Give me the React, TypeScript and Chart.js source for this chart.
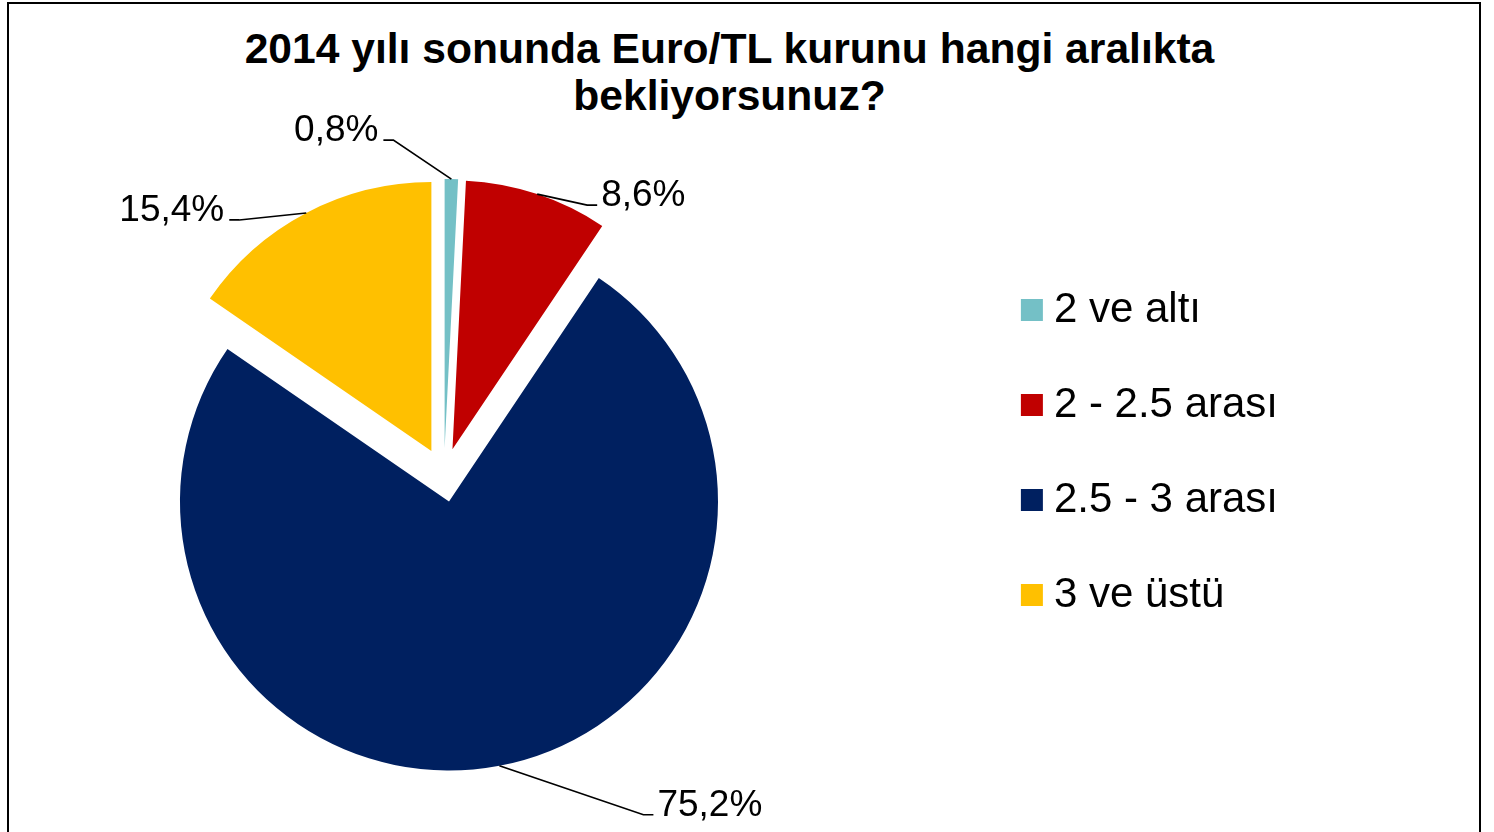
import React, { useEffect, useRef } from 'react';
import { Chart, registerables } from 'chart.js';

Chart.register(...registerables);

// ---- data ----
const TITLE_LINES = ['2014 yılı sonunda Euro/TL kurunu hangi aralıkta', 'bekliyorsunuz?'];
const CATEGORIES = ['2 ve altı', '2 - 2.5 arası', '2.5 - 3 arası', '3 ve üstü'];
const VALUES = [0.8, 8.6, 75.2, 15.4];

// ---- style ----
const COLORS = ['#74C0C6', '#C00000', '#002060', '#FFC000'];
const FONT = '"Liberation Sans", Arial, Helvetica, sans-serif';
const EXPLODE = 27; // px each slice is pulled out along its bisector
const RADIUS = 269;
// leader-line elbow offsets (px) from the slice's outer mid-point
const LABEL_OFFSETS: [number, number][] = [
  [-58, -39],
  [50, 11],
  [144, 49],
  [-67, 7],
];
const CANVAS_LEFT = -90;
const CANVAS_W = 1584;
const CANVAS_H = 832;

const fmt = (v: number) => v.toFixed(1).replace('.', ',') + '%';

const explodePlugin = {
  id: 'explodeSlices',
  afterDatasetsUpdate(chart: any) {
    const meta = chart.getDatasetMeta(0);
    meta.data.forEach((arc: any) => {
      const mid = (arc.startAngle + arc.endAngle) / 2;
      arc.x += Math.cos(mid) * EXPLODE;
      arc.y += Math.sin(mid) * EXPLODE;
    });
  },
};

const labelPlugin = {
  id: 'sliceLabels',
  afterDatasetsDraw(chart: any) {
    const ctx = chart.ctx;
    const meta = chart.getDatasetMeta(0);
    const data = chart.data.datasets[0].data as number[];
    ctx.save();
    ctx.font = `37px ${FONT}`;
    ctx.fillStyle = '#000';
    ctx.strokeStyle = '#000';
    ctx.lineWidth = 1.7;
    meta.data.forEach((arc: any, i: number) => {
      const mid = (arc.startAngle + arc.endAngle) / 2;
      const sx = arc.x + Math.cos(mid) * arc.outerRadius;
      const sy = arc.y + Math.sin(mid) * arc.outerRadius;
      const [dx, dy] = LABEL_OFFSETS[i];
      const ex = sx + dx;
      const ey = sy + dy;
      const left = dx < 0;
      const tx = ex + (left ? -10 : 10);
      ctx.beginPath();
      ctx.moveTo(sx, sy);
      ctx.lineTo(ex, ey);
      ctx.lineTo(tx, ey);
      ctx.stroke();
      ctx.textAlign = left ? 'right' : 'left';
      ctx.textBaseline = 'alphabetic';
      ctx.fillText(fmt(data[i]), tx + (left ? -5 : 4), ey + 1);
    });
    ctx.restore();
  },
};

export default function App() {
  const ref = useRef<HTMLCanvasElement | null>(null);

  useEffect(() => {
    if (!ref.current) return;
    const chart = new Chart(ref.current, {
      type: 'pie',
      data: {
        labels: CATEGORIES,
        datasets: [
          {
            data: VALUES,
            backgroundColor: COLORS,
            borderWidth: 0,
            radius: RADIUS,
            clip: false,
          } as any,
        ],
      },
      options: {
        animation: false,
        responsive: false,
        devicePixelRatio: 1,
        events: [],
        layout: { padding: { top: 236, bottom: 118, left: 0, right: 206 } },
        plugins: {
          title: { display: false },
          tooltip: { enabled: false },
          legend: {
            position: 'right',
            align: 'start',
            labels: {
              font: { family: FONT, size: 42 },
              color: '#000',
              usePointStyle: true,
              pointStyle: 'rect',
              boxWidth: 2,
              boxHeight: 22,
              padding: 53,
            },
          },
        },
      } as any,
      plugins: [explodePlugin, labelPlugin],
    });
    return () => chart.destroy();
  }, []);

  return (
    <div style={{ position: 'fixed', left: 0, top: 0, width: 1494, height: 832, overflow: 'hidden', background: '#fff' }}>
      <div
        style={{
          position: 'absolute',
          left: 7,
          top: 2,
          width: 1470,
          height: 900,
          border: '2px solid #000',
        }}
      />
      <div
        style={{
          position: 'absolute',
          left: 0,
          top: 25,
          width: 1459,
          textAlign: 'center',
          font: `bold 42.6px ${FONT}`,
          lineHeight: '47px',
          color: '#000',
          whiteSpace: 'nowrap',
        }}
      >
        {TITLE_LINES.map((t, i) => (
          <div key={i}>{t}</div>
        ))}
      </div>
      <canvas
        ref={ref}
        width={CANVAS_W}
        height={CANVAS_H}
        style={{ position: 'absolute', left: CANVAS_LEFT, top: 0, width: CANVAS_W, height: CANVAS_H }}
      />
    </div>
  );
}
